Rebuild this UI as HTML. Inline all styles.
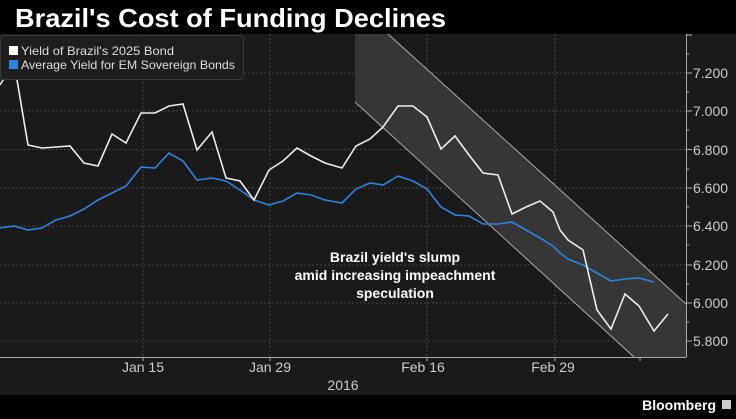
<!DOCTYPE html>
<html><head><style>
body{margin:0;background:#000;width:736px;height:414px;overflow:hidden;font-family:"Liberation Sans",sans-serif}
</style></head><body>
<svg width="736" height="414" xmlns="http://www.w3.org/2000/svg" font-family="Liberation Sans, sans-serif">
<rect x="0" y="0" width="736" height="414" fill="#000"/>
<rect x="0" y="34" width="736" height="361" fill="#1a1a1a"/>
<text x="15" y="27" fill="#fff" font-size="26" font-weight="bold" textLength="431" lengthAdjust="spacingAndGlyphs">Brazil's Cost of Funding Declines</text>
<g stroke="#444" stroke-dasharray="2,2" stroke-width="1">
<line x1="0" y1="73" x2="686" y2="73"/><line x1="0" y1="111" x2="686" y2="111"/>
<line x1="0" y1="149.5" x2="686" y2="149.5"/><line x1="0" y1="188" x2="686" y2="188"/>
<line x1="0" y1="226" x2="686" y2="226"/><line x1="0" y1="265" x2="686" y2="265"/>
<line x1="0" y1="303" x2="686" y2="303"/><line x1="0" y1="341" x2="686" y2="341"/>
<line x1="143" y1="34" x2="143" y2="357"/><line x1="270" y1="34" x2="270" y2="357"/>
<line x1="427" y1="34" x2="427" y2="357"/><line x1="555" y1="34" x2="555" y2="357"/>
</g>
<polygon points="355,34 388,34 686,304 686,357 634,357 355,102" fill="#3a3a3a" fill-opacity="0.9"/>
<line x1="388" y1="34" x2="686" y2="304" stroke="#aaa" stroke-width="1"/>
<line x1="355" y1="102" x2="634" y2="357" stroke="#aaa" stroke-width="1"/>
<polyline fill="none" stroke="#2a84e0" stroke-width="1.6" points="0,228 14,226 28,230 42,228 56,220 70,216 84,209 98,200 112,193 126,186 141,167 155,168 169,153 183,161 197,180 212,178 226,181 240,190 254,200 269,205 283,201 297,193 311,195 325,200 342,203 356,189 370,183 383,185 398,176 413,181 427,189 441,207 455,215 469,216 483,224 498,224 512,222 526,230 540,238 553,246 560,253 568,259 583,265 611,281 625,279 639,278 654,282"/>
<polyline fill="none" stroke="#eee" stroke-width="1.6" points="0,85 14,62 28,145 42,148 56,147 70,146 84,163 98,166 112,134 126,143 141,113 155,113 169,106 183,104 197,150 212,132 226,178 240,181 254,200 269,170 283,161 297,148 311,156 325,163 342,168 356,146 370,139 383,127 398,106 413,106 427,117 441,149 455,136 469,155 483,173 498,175 512,214 526,207 540,201 553,212 560,230 568,240 583,250 597,310 611,329 625,294 639,306 654,331 668,314"/>
<rect x="0.5" y="35.5" width="243" height="44" rx="3" fill="#1e1e1e" stroke="#3a3a3a"/>
<rect x="9" y="46" width="9" height="9" fill="#fff"/>
<rect x="9" y="60" width="9" height="9" fill="#2a84e0"/>
<text x="21" y="55" fill="#ddd" font-size="12" textLength="153" lengthAdjust="spacingAndGlyphs">Yield of Brazil's 2025 Bond</text>
<text x="21" y="69" fill="#ddd" font-size="12" textLength="214" lengthAdjust="spacingAndGlyphs">Average Yield for EM Sovereign Bonds</text>
<g fill="#fff" font-size="14" font-weight="bold" text-anchor="middle">
<text x="395" y="262">Brazil yield's slump</text>
<text x="395" y="280">amid increasing impeachment</text>
<text x="395" y="298">speculation</text>
</g>
<line x1="686.5" y1="34" x2="686.5" y2="357" stroke="#aaa"/>
<line x1="0" y1="357.5" x2="686" y2="357.5" stroke="#aaa"/>
<g stroke="#aaa">
<line x1="686" y1="35" x2="692" y2="35"/>
<line x1="686" y1="73" x2="692" y2="73"/><line x1="686" y1="111" x2="692" y2="111"/>
<line x1="686" y1="149.5" x2="692" y2="149.5"/><line x1="686" y1="188" x2="692" y2="188"/>
<line x1="686" y1="226" x2="692" y2="226"/><line x1="686" y1="265" x2="692" y2="265"/>
<line x1="686" y1="303" x2="692" y2="303"/><line x1="686" y1="341" x2="692" y2="341"/>
<line x1="686" y1="54" x2="689" y2="54"/><line x1="686" y1="92" x2="689" y2="92"/>
<line x1="686" y1="130" x2="689" y2="130"/><line x1="686" y1="169" x2="689" y2="169"/>
<line x1="686" y1="207" x2="689" y2="207"/><line x1="686" y1="245" x2="689" y2="245"/>
<line x1="686" y1="284" x2="689" y2="284"/><line x1="686" y1="322" x2="689" y2="322"/>
<line x1="143" y1="357" x2="143" y2="361"/><line x1="270" y1="357" x2="270" y2="361"/>
<line x1="427" y1="357" x2="427" y2="361"/><line x1="555" y1="357" x2="555" y2="361"/>
<line x1="640" y1="357" x2="640" y2="361"/>
</g>
<g fill="#ccc" font-size="14">
<text x="693" y="78">7.200</text><text x="693" y="116">7.000</text>
<text x="693" y="155">6.800</text><text x="693" y="193">6.600</text>
<text x="693" y="231">6.400</text><text x="693" y="270">6.200</text>
<text x="693" y="308">6.000</text><text x="693" y="346">5.800</text>
</g>
<g fill="#ccc" font-size="14" text-anchor="middle">
<text x="143" y="372">Jan 15</text><text x="270" y="372">Jan 29</text>
<text x="423" y="372">Feb 16</text><text x="553" y="372">Feb 29</text>
<text x="343" y="390">2016</text>
</g>
<rect x="0" y="395" width="736" height="19" fill="#000"/>
<text x="716" y="410" fill="#fff" font-size="14" font-weight="bold" text-anchor="end">Bloomberg</text>
<rect x="722" y="400" width="9" height="9" fill="#ccc"/>
</svg>
</body></html>
